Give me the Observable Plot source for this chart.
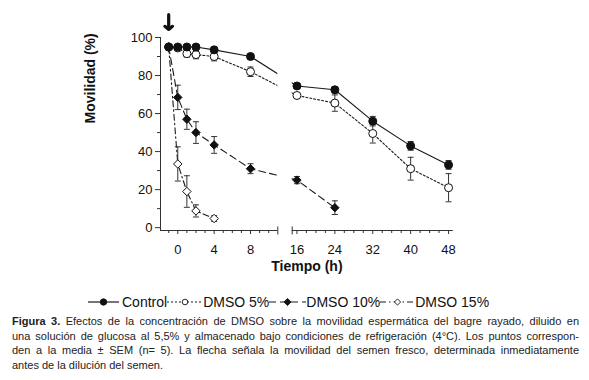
<!DOCTYPE html>
<html><head><meta charset="utf-8">
<script src="https://cdn.jsdelivr.net/npm/d3@7"></script>
<script src="https://cdn.jsdelivr.net/npm/@observablehq/plot@0.6"></script>
<style>
body{margin:0;background:#fff;}
#wrap{position:relative;width:589px;height:380px;font-family:"Liberation Sans",Arial,sans-serif;color:#111;overflow:hidden;}
#chart{position:absolute;left:0;top:0;}
#legend{position:absolute;left:88px;top:292px;height:20px;display:flex;align-items:center;font-size:14px;line-height:20px;white-space:nowrap;}
.item{display:flex;align-items:center;}
.item svg{display:block;}
#caption{position:absolute;left:12px;top:314px;width:567px;font-size:11px;line-height:14.7px;color:#222;}
.jl{text-align:justify;text-align-last:justify;white-space:nowrap;}
</style></head>
<body><div id="wrap"><div id="chart"></div><div id="legend"></div>
<div id="caption">
<div class="jl"><b>Figura 3.</b> Efectos de la concentración de DMSO sobre la movilidad espermática del bagre rayado, diluido en</div>
<div class="jl">una solución de glucosa al 5,5% y almacenado bajo condiciones de refrigeración (4°C). Los puntos correspon-</div>
<div class="jl">den a la media ± SEM (n= 5). La flecha señala la movilidad del semen fresco, determinada inmediatamente</div>
<div>antes de la dilución del semen.</div>
</div></div>
<script>
// ---- data ----
const times = [-1, 0, 1, 2, 4, 8, 16, 24, 32, 40, 48];
const seriesNames = ["Control", "DMSO 5%", "DMSO 10%", "DMSO 15%"];
const control    = [95, 95, 95, 95, 93.5, 90, 74.5, 72.5, 56, 43, 33];
const controlErr = [0, 0, 0, 0, 1, 1.3, 1, 1.7, 2.5, 2.3, 2.3];
const dmso5      = [95, 94.5, 91.5, 91, 90, 82, 69.5, 65.5, 49.5, 31, 21];
const dmso5Err   = [0, 0.5, 1.8, 2.2, 2.3, 2.5, 1, 4.3, 5, 6, 7.4];
const dmso10     = [95, 68.5, 57, 50, 43.5, 31, 25, 10.5, null, null, null];
const dmso10Err  = [0, 6.4, 5.3, 5.7, 4.4, 2.6, 1.9, 3.6, null, null, null];
const dmso15     = [95, 33.5, 19, 8.8, 4.8, null, null, null, null, null, null];
const dmso15Err  = [0, 9, 8.3, 3.2, 1.5, null, null, null, null, null, null];
const majorX = [0, 4, 8, 16, 24, 32, 40, 48];
const minorX = [-1, 1, 2, 3, 5, 6, 7, 9, 10, 18, 20, 22, 26, 28, 30, 34, 36, 38, 42, 44, 46];
const majorY = [0, 20, 40, 60, 80, 100];
const minorY = [10, 30, 50, 70, 90];
const freshArrow = [{t: -1, from: 112, to: 104.2}];

// ---- layout (broken x axis) ----
const xDomain = [-1.9, 11, 15, 49];
const xRange = [160, 277.3, 291.7, 452.8];
const yDomain = [-1.5, 100];
const panels = [{x1: xDomain[0], x2: xDomain[1]}, {x1: xDomain[2], x2: xDomain[3]}];
const gap = [{x1: xDomain[1], x2: xDomain[2]}];
const endTicks = [xDomain[1], xDomain[2]];

const styles = {
  "Control":  {dash: null, symbol: "circle", fill: "#111", r: 4},
  "DMSO 5%":  {dash: "2,2", symbol: "circle", fill: "white", r: 4},
  "DMSO 10%": {dash: "7,4", symbol: "diamond2", fill: "#111", r: 3.8},
  "DMSO 15%": {dash: "6,3,1.5,3", symbol: "diamond2", fill: "white", r: 3.8}
};
const valuesBy = {"Control": [control, controlErr], "DMSO 5%": [dmso5, dmso5Err], "DMSO 10%": [dmso10, dmso10Err], "DMSO 15%": [dmso15, dmso15Err]};
function rows(name) {
  const [v, e] = valuesBy[name];
  return times.map((t, i) => ({series: name, t, v: v[i], e: e[i]})).filter(d => d.v != null);
}
const hline = {draw(ctx, size) { const w = Math.sqrt(size / Math.PI); ctx.moveTo(-w, 0); ctx.lineTo(w, 0); }};
const vline = {draw(ctx, size) { const w = Math.sqrt(size / Math.PI); ctx.moveTo(0, -w); ctx.lineTo(0, w); }};

const order = ["DMSO 15%", "DMSO 10%", "DMSO 5%", "Control"];
const marks = [];
for (const s of order) {
  marks.push(Plot.line(rows(s), {x: "t", y: "v", stroke: "#1a1a1a", strokeWidth: 1.1, strokeDasharray: styles[s].dash}));
}
marks.push(Plot.rect(gap, {x1: "x1", x2: "x2", y1: yDomain[0], y2: yDomain[1], fill: "white"}));
for (const s of order) {
  const er = rows(s).filter(d => d.e > 0);
  marks.push(Plot.ruleX(er, {x: "t", y1: d => d.v - d.e, y2: d => d.v + d.e, stroke: "#333", strokeWidth: 1}));
  marks.push(Plot.dot(er, {x: "t", y: d => d.v + d.e, symbol: hline, r: 3, stroke: "#333", strokeWidth: 1, fill: "none"}));
  marks.push(Plot.dot(er, {x: "t", y: d => d.v - d.e, symbol: hline, r: 3, stroke: "#333", strokeWidth: 1, fill: "none"}));
}
for (const s of order) {
  marks.push(Plot.dot(rows(s), {x: "t", y: "v", symbol: styles[s].symbol, r: styles[s].r, fill: styles[s].fill, stroke: "#111", strokeWidth: 1}));
}
// axes
marks.push(Plot.ruleY(panels, {x1: "x1", x2: "x2", y: yDomain[0], stroke: "#333", strokeWidth: 1}));
marks.push(Plot.ruleX([xDomain[0]], {y1: yDomain[0], y2: 100, stroke: "#333", strokeWidth: 1}));
marks.push(Plot.dot(endTicks, {x: d => d, y: yDomain[0], symbol: vline, r: 4, stroke: "#333", strokeWidth: 1}));
marks.push(Plot.axisX({ticks: majorX, tickSize: 4, tickPadding: 10, label: null, tickFormat: d => d, stroke: "#333"}));
marks.push(Plot.axisX({ticks: minorX, tickSize: 3, text: null, label: null, stroke: "#333"}));
marks.push(Plot.axisY({ticks: majorY, tickSize: 5, tickPadding: 3, label: null, tickFormat: d => d, stroke: "#333"}));
marks.push(Plot.axisY({ticks: minorY, tickSize: 3, text: null, label: null, stroke: "#333"}));
marks.push(Plot.text(["Tiempo (h)"], {frameAnchor: "bottom", dy: 40, fontWeight: "bold", fontSize: 14, fill: "#111"}));
marks.push(Plot.text(["Movilidad (%)"], {frameAnchor: "left", rotate: -90, dx: -70, dy: -10.5, fontWeight: "bold", fontSize: 14, fill: "#111"}));
marks.push(Plot.arrow(freshArrow, {x1: "t", x2: "t", y1: "from", y2: "to", stroke: "#111", strokeWidth: 3.2, headLength: 16, headAngle: 100}));

const chart = Plot.plot({
  width: 589, height: 282,
  marginLeft: 160, marginRight: 136.2, marginTop: 37, marginBottom: 52,
  x: {type: "linear", domain: xDomain, range: xRange},
  y: {domain: yDomain},
  style: {fontFamily: "Liberation Sans, Arial, sans-serif", fontSize: "13px", color: "#111", background: "white", overflow: "visible"},
  marks
});
document.getElementById("chart").appendChild(chart);

// legend
const legend = d3.select("#legend");
const sampleW = {"Control": 31, "DMSO 5%": 36, "DMSO 10%": 37, "DMSO 15%": 35};
for (const s of seriesNames) {
  const it = legend.append("div").attr("class", "item");
  const w = sampleW[s];
  const svg = it.append("svg").attr("width", w).attr("height", 20);
  svg.append("line").attr("x1", 0).attr("x2", w).attr("y1", 10).attr("y2", 10)
    .attr("stroke", "#1a1a1a").attr("stroke-width", 1.2).attr("stroke-dasharray", styles[s].dash);
  const sym = styles[s].symbol === "circle" ? d3.symbolCircle : d3.symbolDiamond2;
  const rr = s === "Control" || s === "DMSO 10%" ? 3.2 : 2.8;
  svg.append("path").attr("d", d3.symbol(sym, rr * rr * Math.PI)()).attr("transform", `translate(${w/2},10)`)
    .attr("fill", styles[s].fill).attr("stroke", "#111").attr("stroke-width", 0.9);
  it.append("span").text(s).style("margin-left", s === "Control" ? "3px" : "0px");
}
</script>
</body></html>
